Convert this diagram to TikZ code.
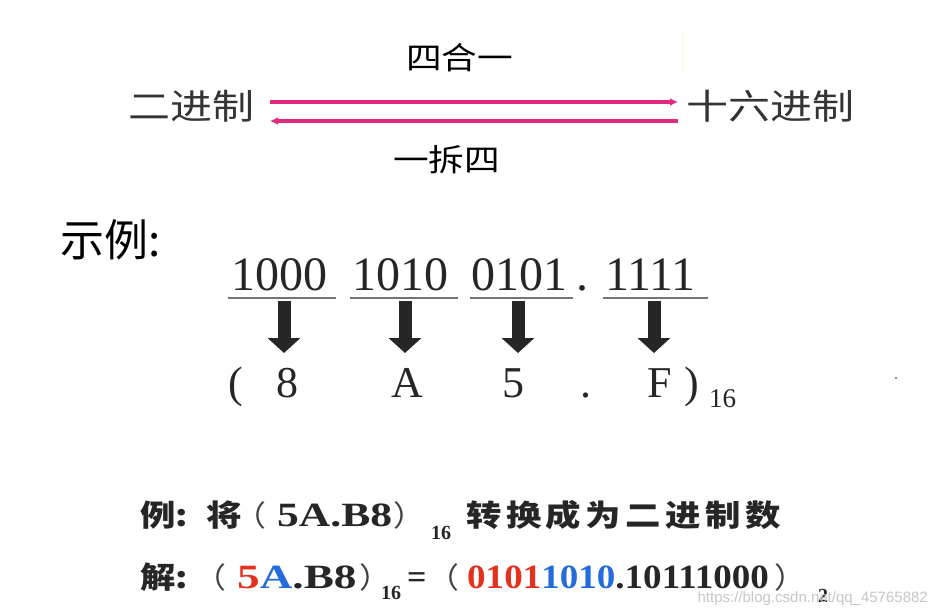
\documentclass[tikz,border=0pt]{standalone}
\usepackage{fontspec}
\usepackage{graphicx}
\setmainfont{Liberation Serif}
\newfontfamily\cjk{Noto Sans CJK SC}
\newfontfamily\wmfont{Liberation Sans}
\usetikzlibrary{arrows.meta}
\definecolor{pinkarrow}{RGB}{226,42,124}
\definecolor{darkgray}{RGB}{52,52,52}
\definecolor{redd}{RGB}{228,48,28}
\definecolor{bluee}{RGB}{36,108,220}
\newcommand{\sx}[2]{\scalebox{#1}[1]{#2}}
\newcommand{\lpar}{\makebox[0.5em][r]{（}}
\newcommand{\rpar}{\makebox[0.5em][l]{）}}
\tikzset{
  cjktop/.style={font=\cjk\fontsize{35}{35}\selectfont, text=darkgray, inner sep=0pt, anchor=west},
  cjklabel/.style={font=\cjk\fontsize{31}{31}\selectfont, text=black, inner sep=0pt, anchor=west},
  bits/.style={font=\fontsize{48}{48}\selectfont, text=black!85, inner sep=0pt, anchor=base west},
  hexd/.style={font=\fontsize{44}{44}\selectfont, text=black!85, inner sep=0pt, anchor=base},
  pinkarr/.style={draw=pinkarrow, line width=3.2pt, -{Latex[length=8pt,width=8pt]}},
  ul/.style={draw=black!55, line width=1.5pt},
  blockarr/.style={draw=black!85, line width=13pt, -{Triangle[length=15pt,width=32pt]}},
  cjkb/.style={font=\cjk\bfseries\fontsize{30}{30}\selectfont, text=black!85, inner sep=0pt, anchor=base west},
  cjkp/.style={font=\cjk\fontsize{29}{29}\selectfont, text=black!75, inner sep=0pt, anchor=base west},
  latb/.style={font=\bfseries\fontsize{34}{34}\selectfont, text=black!85, inner sep=0pt, anchor=base west},
  subb/.style={font=\bfseries\fontsize{20}{20}\selectfont, text=black!85, inner sep=0pt, anchor=base west},
}
\begin{document}
\begin{tikzpicture}[x=1pt,y=-1pt]
\useasboundingbox (0,0) rectangle (935,616);
\fill[white] (0,0) rectangle (935,616);
% ---------- top conversion ----------
\node[cjktop] (bin) at (128,106) {\sx{1.2}{二进制}};
\node[cjktop] (hex) at (686,106) {\sx{1.2}{十六进制}};
\node[cjklabel] (he) at (406,58) {\sx{1.15}{四合一}};
\node[cjklabel] (chai) at (393,160) {\sx{1.15}{一拆四}};
\coordinate (b1) at (270,102);
\coordinate (x1) at (678,102);
\coordinate (b2) at (270,121);
\coordinate (x2) at (678,121);
\draw[pinkarr] (b1) -- (x1);
\draw[pinkarr] (x2) -- (b2);
\coordinate (fa) at (682,30);
\coordinate (fb) at (682,72);
\draw[yellow!20!white, line width=1pt] (fa) -- (fb);
% ---------- example ----------
\node[font=\cjk\fontsize{44}{44}\selectfont, inner sep=0pt, anchor=west] (ex) at (60,240) {示例:};
\node[bits] (g1) at (231,290) {1000};
\node[bits] (g2) at (352,290) {1010};
\node[bits] (g3) at (471,290) {0101};
\node[bits] (gd) at (576,290) {.};
\node[bits] (g4) at (605,290) {1111};
\draw[ul] (228,298) coordinate (u1a) -- (336,298) coordinate (u1b);
\draw[ul] (350,298) coordinate (u2a) -- (458,298) coordinate (u2b);
\draw[ul] (470,298) coordinate (u3a) -- (573,298) coordinate (u3b);
\draw[ul] (603,298) coordinate (u4a) -- (708,298) coordinate (u4b);
\coordinate (a1s) at (284,301); \coordinate (a1e) at (284,353);
\coordinate (a2s) at (405,301); \coordinate (a2e) at (405,353);
\coordinate (a3s) at (518,301); \coordinate (a3e) at (518,353);
\coordinate (a4s) at (654,301); \coordinate (a4e) at (654,353);
\draw[blockarr] (a1s) -- (a1e);
\draw[blockarr] (a2s) -- (a2e);
\draw[blockarr] (a3s) -- (a3e);
\draw[blockarr] (a4s) -- (a4e);
\node[hexd] (lp) at (236,397) {(};
\node[hexd] (h1) at (287,397) {8};
\node[hexd] (h2) at (407,397) {A};
\node[hexd] (h3) at (513,397) {5};
\node[hexd] (hd) at (586,397) {.};
\node[hexd] (h4) at (660,397) {F};
\node[hexd] (rp) at (692,397) {)};
\node[font=\fontsize{27}{27}\selectfont, text=black!85, inner sep=0pt, anchor=base west] (sub) at (709,407) {16};
% ---------- line 1 ----------
\node[cjkb] (e1) at (140,526) {\sx{1.18}{例:}};
\node[cjkb] (e2) at (206,526) {\sx{1.18}{将}};
\node[cjkp] (e3) at (250,526) {\sx{1.1}{\lpar}};
\node[latb] (e4) at (277,526) {\sx{1.28}{5A.B8}};
\node[cjkp] (e5) at (393,526) {\sx{1.1}{\rpar}};
\node[subb] (e6) at (431,539) {16};
\node[cjkb] (e7) at (466,526) {\sx{1.18}{转\kern3.8pt 换\kern3.8pt 成\kern3.8pt 为\kern3.8pt 二\kern3.8pt 进\kern3.8pt 制\kern3.8pt 数}};
% ---------- line 2 ----------
\node[cjkb] (f1) at (140,588) {\sx{1.18}{解:}};
\node[cjkp] (f2) at (210,588) {\sx{1.1}{\lpar}};
\node[latb] (f3) at (237,588) {\sx{1.33}{\textcolor{redd}{5}\textcolor{bluee}{A}.B8}};
\node[cjkp] (f4) at (359,588) {\sx{1.1}{\rpar}};
\node[subb] (f5) at (381,599) {16};
\node[latb] (f6) at (407,588) {=};
\node[cjkp] (f7) at (443,588) {\sx{1.1}{\lpar}};
\node[latb] (f8) at (467,588) {\sx{1.09}{\textcolor{redd}{0101}\textcolor{bluee}{1010}.10111000}};
\node[cjkp] (f9) at (774,588) {\sx{1.1}{\rpar}};
\node[subb] (f10) at (818,602) {2};
% ---------- watermark and stray dot ----------
\node[font=\wmfont\fontsize{15}{15}\selectfont, text=black!22, inner sep=0pt, anchor=east] (wm) at (928,599) {https://blog.csdn.net/qq\_45765882};
\fill[black!45] (896,378) circle (1.3pt);
\end{tikzpicture}
\end{document}
